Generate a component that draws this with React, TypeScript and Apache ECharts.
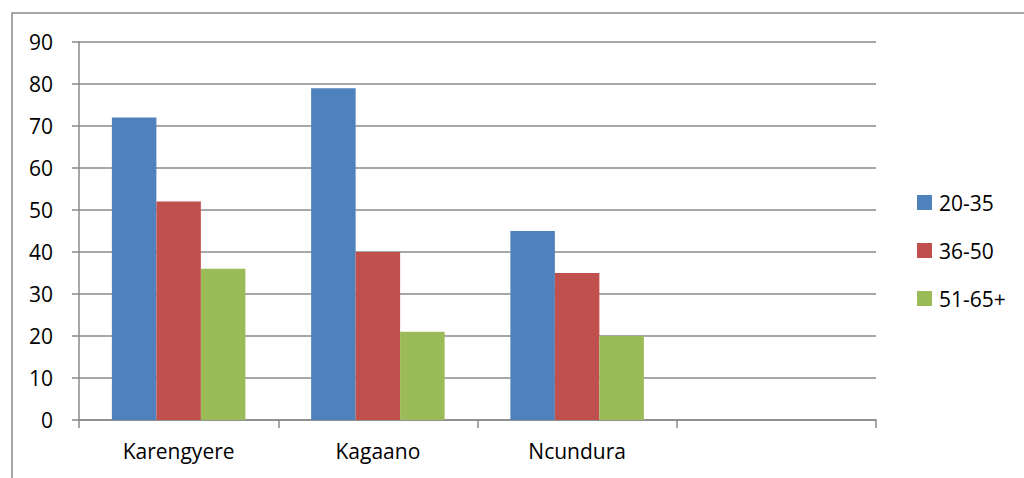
import React, { useEffect, useRef } from "react";
import * as echarts from "echarts";

// Villages along the x axis (the last slot is left empty)
const categories = ["Karengyere", "Kagaano", "Ncundura", ""];

// Respondent counts per age group
const age20to35 = [72, 79, 45, null];
const age36to50 = [52, 40, 35, null];
const age51to65 = [36, 21, 20, null];

const seriesNames = ["20-35", "36-50", "51-65+"];
const seriesColors = ["#4F81BD", "#C0504D", "#9BBB59"];

const yTicks = { min: 0, max: 90, interval: 10 };

const FONT = "'Open Sans', 'Noto Sans', sans-serif";
const LINE = "#8a8a8a";
const FONT_SIZE = 21;

export default function App() {
  const ref = useRef<HTMLDivElement>(null);

  useEffect(() => {
    if (!ref.current) return;
    const chart = echarts.init(ref.current, undefined, { renderer: "svg" });
    const values = [age20to35, age36to50, age51to65];
    chart.setOption({
      animation: false,
      backgroundColor: "#ffffff",
      textStyle: { fontFamily: FONT },
      graphic: [
        {
          type: "rect",
          shape: { x: 12, y: 13, width: 1200, height: 600 },
          style: { fill: "none", stroke: LINE, lineWidth: 1.5 },
          silent: true,
        },
      ],
      grid: { left: 79, right: 148, top: 42, bottom: 58, containLabel: false },
      legend: {
        orient: "vertical",
        left: 917,
        top: 192,
        padding: 0,
        itemWidth: 15,
        itemHeight: 15,
        itemGap: 27,
        icon: "rect",
        data: seriesNames,
        textStyle: {
          fontFamily: FONT,
          fontSize: FONT_SIZE,
          color: "#000",
          lineHeight: 21,
          padding: [0, 0, 0, 2],
        },
      },
      xAxis: {
        type: "category",
        data: categories,
        axisLine: { lineStyle: { color: LINE, width: 1.5 } },
        axisTick: { show: true, length: 8, lineStyle: { color: LINE, width: 1.5 } },
        axisLabel: { color: "#000", fontSize: FONT_SIZE, fontFamily: FONT, margin: 20 },
      },
      yAxis: {
        type: "value",
        min: yTicks.min,
        max: yTicks.max,
        interval: yTicks.interval,
        axisLine: { show: true, lineStyle: { color: LINE, width: 1.5 } },
        axisTick: { show: true, length: 7, lineStyle: { color: LINE, width: 1.5 } },
        splitLine: { show: true, lineStyle: { color: LINE, width: 1.5 } },
        axisLabel: { color: "#000", fontSize: FONT_SIZE, fontFamily: FONT, margin: 26 },
      },
      series: values.map((data, i) => ({
        name: seriesNames[i],
        type: "bar",
        data,
        barGap: "0%",
        barCategoryGap: "33%",
        itemStyle: { color: seriesColors[i] },
      })),
    });
    return () => chart.dispose();
  }, []);

  return (
    <div
      ref={ref}
      style={{ position: "fixed", left: 0, top: 0, width: 1024, height: 478 }}
    />
  );
}
